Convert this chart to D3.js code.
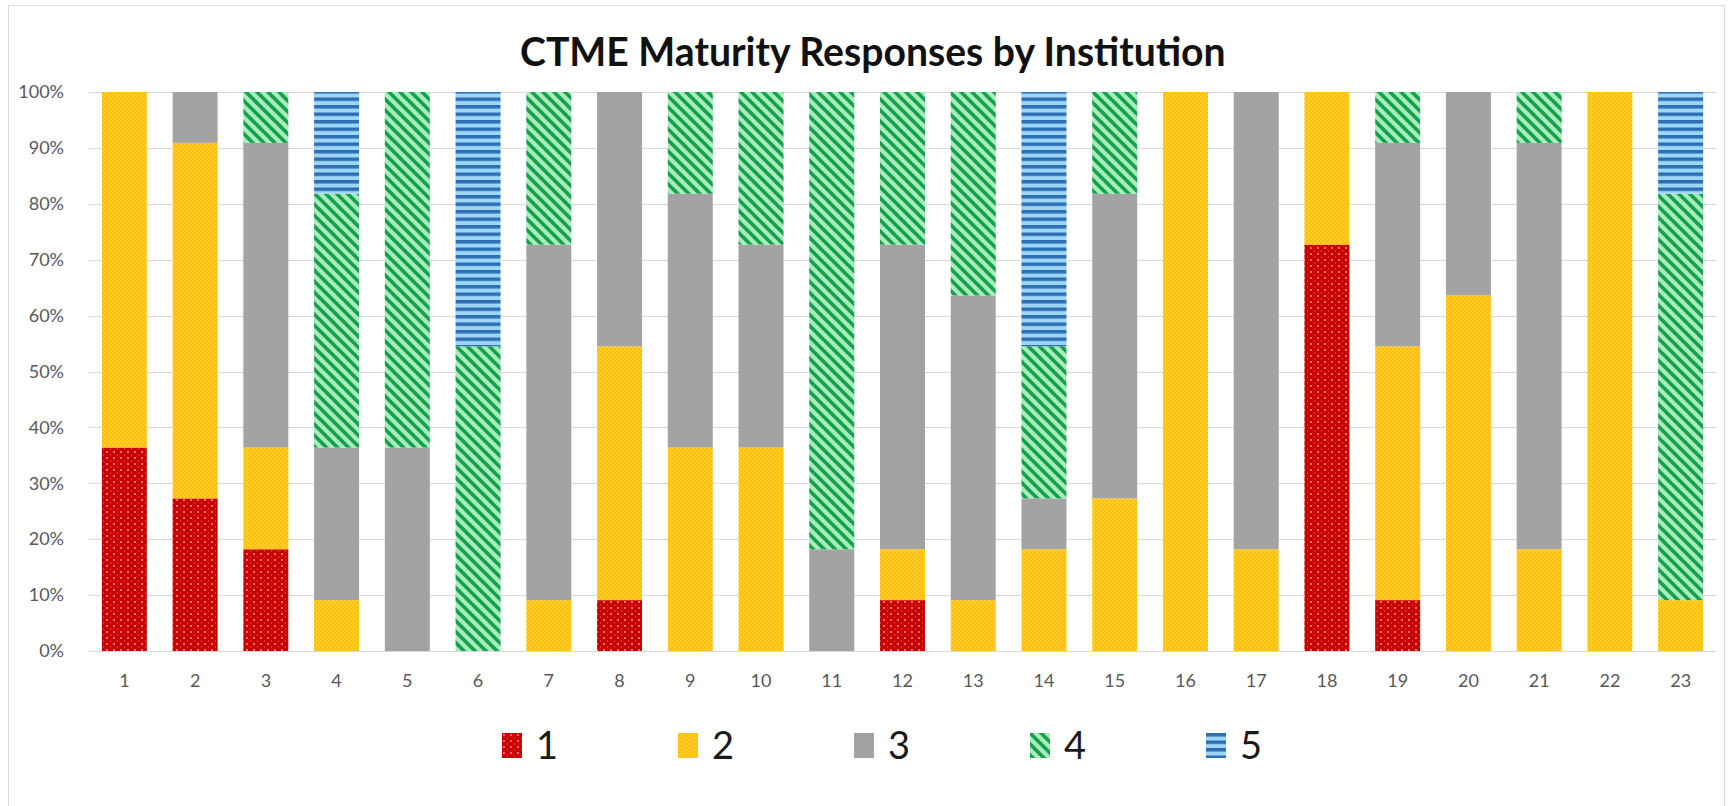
<!DOCTYPE html>
<html>
<head>
<meta charset="utf-8">
<script src="https://cdn.jsdelivr.net/npm/d3@7"></script>
<style>
  html, body { margin: 0; padding: 0; background: #fff; }
  svg { display: block; }
</style>
</head>
<body>
<svg id="chart" width="1732" height="806"></svg>
<script>
// ---- Data (percent of responses per maturity level, per institution) ----
const institutions = ["1","2","3","4","5","6","7","8","9","10","11","12","13","14","15","16","17","18","19","20","21","22","23"];
const levels = ["1","2","3","4","5"];
const level1 = [36.4, 27.3, 18.2, 0, 0, 0, 0, 9.1, 0, 0, 0, 9.1, 0, 0, 0, 0, 0, 72.7, 9.1, 0, 0, 0, 0];
const level2 = [63.6, 63.6, 18.2, 9.1, 0, 0, 9.1, 45.4, 36.4, 36.4, 0, 9.1, 9.1, 18.2, 27.3, 100, 18.2, 27.3, 45.4, 63.6, 18.2, 100, 9.1];
const level3 = [0, 9.1, 54.5, 27.3, 36.4, 0, 63.6, 45.5, 45.4, 36.3, 18.2, 54.5, 54.5, 9.1, 54.5, 0, 81.8, 0, 36.4, 36.4, 72.7, 0, 0];
const level4 = [0, 0, 9.1, 45.4, 63.6, 54.5, 27.3, 0, 18.2, 27.3, 81.8, 27.3, 36.4, 27.2, 18.2, 0, 0, 0, 9.1, 0, 9.1, 0, 72.7];
const level5 = [0, 0, 0, 18.2, 0, 45.5, 0, 0, 0, 0, 0, 0, 0, 45.5, 0, 0, 0, 0, 0, 0, 0, 0, 18.2];
const yTicks = [0, 0.1, 0.2, 0.3, 0.4, 0.5, 0.6, 0.7, 0.8, 0.9, 1.0];
const titleText = "CTME Maturity Responses by Institution";

const seriesArrays = [level1, level2, level3, level4, level5];
const table = institutions.map((inst, i) => {
  const row = { inst };
  levels.forEach((l, k) => row[l] = seriesArrays[k][i]);
  return row;
});

// ---- Layout ----
const svg = d3.select("#chart");
const W = 1732, H = 806;
const plot = { left: 89, right: 1716, top: 92, bottom: 651 };

svg.append("rect").attr("x", 0).attr("y", 0).attr("width", W).attr("height", H).attr("fill", "#fff");
// chart frame
svg.append("rect").attr("x", 8.5).attr("y", 5.5).attr("width", 1716).attr("height", 820)
  .attr("fill", "none").attr("stroke", "#d9d9d9").attr("stroke-width", 1);

// ---- Patterns ----
const defs = svg.append("defs");
// 1: red with dots
const p1 = defs.append("pattern").attr("id", "pat1").attr("patternUnits", "userSpaceOnUse")
  .attr("width", 7).attr("height", 6);
p1.append("rect").attr("width", 7).attr("height", 6).attr("fill", "#c80000");
p1.append("circle").attr("cx", 2).attr("cy", 2).attr("r", 1.1).attr("fill", "#f58a8a");
p1.append("circle").attr("cx", 5.5).attr("cy", 5).attr("r", 0.7).attr("fill", "#e85050");
// 2: yellow with light dots
const p2 = defs.append("pattern").attr("id", "pat2").attr("patternUnits", "userSpaceOnUse")
  .attr("width", 4).attr("height", 4);
p2.append("rect").attr("width", 4).attr("height", 4).attr("fill", "#ffc107");
p2.append("rect").attr("x", 0.5).attr("y", 0.5).attr("width", 1.2).attr("height", 1.2).attr("fill", "#ffe27a");
p2.append("rect").attr("x", 2.5).attr("y", 2.5).attr("width", 1.2).attr("height", 1.2).attr("fill", "#ffe27a");
// 3: solid gray
const p3 = defs.append("pattern").attr("id", "pat3").attr("patternUnits", "userSpaceOnUse")
  .attr("width", 4).attr("height", 4);
p3.append("rect").attr("width", 4).attr("height", 4).attr("fill", "#a3a3a3");
// 4: green wide downward diagonal
const p4 = defs.append("pattern").attr("id", "pat4").attr("patternUnits", "userSpaceOnUse")
  .attr("width", 11).attr("height", 11);
p4.append("rect").attr("width", 11).attr("height", 11).attr("fill", "#a6ecbf");
p4.append("path").attr("d", "M-1,-1 L12,12 M-3,8 L3,14 M8,-3 L14,3")
  .attr("stroke", "#16a04a").attr("stroke-width", 3.6);
// 5: blue horizontal stripes
const p5 = defs.append("pattern").attr("id", "pat5").attr("patternUnits", "userSpaceOnUse")
  .attr("width", 8).attr("height", 7.5);
p5.append("rect").attr("width", 8).attr("height", 7.5).attr("fill", "#9ed6f6");
p5.append("rect").attr("y", 0).attr("width", 8).attr("height", 3.5).attr("fill", "#2d6fb3");

const fills = ["url(#pat1)", "url(#pat2)", "url(#pat3)", "url(#pat4)", "url(#pat5)"];

// ---- Scales ----
const x = d3.scaleBand().domain(institutions).range([plot.left, plot.right]).paddingInner(0.364).paddingOuter(0.182);
const y = d3.scaleLinear().domain([0, 1]).range([plot.bottom, plot.top]);

// gridlines
svg.append("g").selectAll("line").data(yTicks).join("line")
  .attr("x1", plot.left).attr("x2", plot.right)
  .attr("y1", d => Math.round(y(d)) + 0.5).attr("y2", d => Math.round(y(d)) + 0.5)
  .attr("stroke", "#d9d9d9").attr("stroke-width", 1);

// ---- Bars ----
const stack = d3.stack().keys(levels).offset(d3.stackOffsetExpand);
const stacked = stack(table);
svg.append("g").selectAll("g").data(stacked).join("g")
  .attr("fill", (d, i) => fills[i])
  .selectAll("rect").data(d => d).join("rect")
  .attr("x", d => x(d.data.inst))
  .attr("width", x.bandwidth())
  .attr("y", d => y(d[1]))
  .attr("height", d => Math.max(0, y(d[0]) - y(d[1])));

// ---- Axes ----
const yAxis = d3.axisLeft(y).tickValues(yTicks).tickFormat(d3.format(".0%")).tickSize(0).tickPadding(0);
const yg = svg.append("g").attr("transform", `translate(${plot.left - 25},0)`).call(yAxis);
yg.select(".domain").remove();
yg.selectAll("text").attr("fill", "#595959").style("font-family", "Lato, 'Open Sans', sans-serif").style("font-size", "18px");

const xAxis = d3.axisBottom(x).tickSize(0).tickPadding(0);
const xg = svg.append("g").attr("transform", `translate(0,${plot.bottom + 23})`).call(xAxis);
xg.select(".domain").remove();
xg.selectAll("text").attr("fill", "#595959").style("font-family", "Lato, 'Open Sans', sans-serif").style("font-size", "18px");

// ---- Title ----
const title = svg.append("text")
  .attr("x", 520).attr("y", 66)
  .attr("fill", "#111")
  .style("font-family", "Lato, 'Open Sans', sans-serif")
  .style("font-weight", "bold")
  .style("font-size", "33px")
  .text(titleText);
const tw = title.node().getComputedTextLength();
title.style("font-size", (33 * 706 / tw) + "px");

// ---- Legend ----
const legendX = d3.scalePoint().domain(levels).range([502, 1206]);
const lg = svg.append("g").selectAll("g").data(levels).join("g")
  .attr("transform", d => `translate(${legendX(d)},733)`);
lg.append("rect").attr("width", 20).attr("height", 25).attr("fill", (d, i) => fills[i]);
lg.append("text").attr("x", 34).attr("y", 26)
  .attr("fill", "#1a1a1a")
  .style("font-family", "Lato, 'Open Sans', sans-serif")
  .style("font-size", "38px")
  .text(d => d);
</script>
</body>
</html>
